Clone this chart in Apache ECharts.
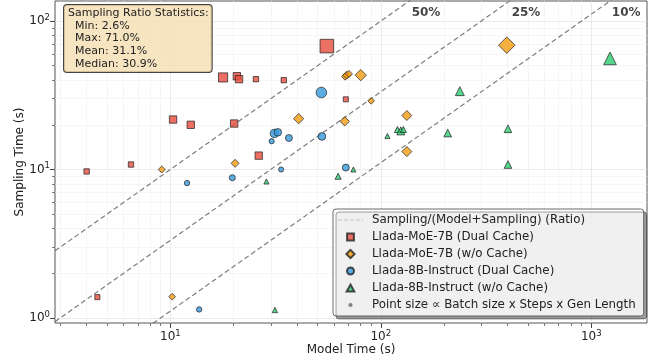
<!DOCTYPE html>
<html>
<head>
<meta charset="utf-8">
<script src="https://cdn.jsdelivr.net/npm/echarts@6/dist/echarts.min.js"></script>
<style>
  html, body { margin: 0; padding: 0; background: #fff; }
  #chart { width: 657px; height: 360px; }
</style>
</head>
<body>
<div id="chart"></div>
<script>
// rows: [model time (s), sampling time (s), relative workload]
const moeDualCache = [
  [4.0, 9.7, 1.8], [6.5, 10.8, 1.8], [10.3, 21.7, 3.4], [12.5, 20.0, 3.4],
  [20.1, 20.4, 3.4], [17.8, 41.7, 5.2], [20.7, 42.5, 3.4], [21.2, 40.6, 3.4],
  [25.5, 40.6, 1.8], [34.6, 40.0, 1.8], [26.3, 12.4, 3.4], [55.4, 67.8, 11.5],
  [68.2, 29.7, 1.6], [4.5, 1.38, 1.6]
];
const moeNoCache = [
  [9.1, 10.0, 3.0], [20.3, 11.0, 4.0], [40.7, 22.0, 6.5], [67.6, 42.2, 3.0],
  [68.9, 43.2, 4.0], [70.6, 44.0, 3.0], [80.3, 43.2, 8.0], [90.0, 29.0, 2.8],
  [67.4, 21.1, 5.4], [133, 23.1, 6.2], [133, 13.2, 6.2], [397, 68.8, 17.0],
  [10.2, 1.39, 2.8]
];
const instDualCache = [
  [52.2, 33.0, 7.0], [52.5, 16.7, 3.7], [31.2, 17.5, 4.2], [32.4, 17.8, 3.6],
  [30.3, 15.5, 1.7], [36.6, 16.3, 3.0], [33.6, 10.0, 1.6], [19.7, 8.8, 2.3],
  [12.0, 8.1, 1.8], [13.7, 1.14, 1.8], [68.2, 10.3, 3.0]
];
const instNoCache = [
  [62.7, 9.0, 2.3], [74.1, 10.0, 1.6], [107.5, 16.8, 1.6], [120, 18.6, 2.3],
  [124.5, 18.2, 4.0], [128, 18.6, 2.3], [208, 17.6, 3.7], [237.5, 33.7, 5.0],
  [402, 18.8, 3.7], [402, 10.8, 3.7], [1228, 56.0, 10.0], [28.6, 8.3, 1.6],
  [31.4, 1.13, 1.8]
];

const ratioLevels = [0.5, 0.25, 0.1];
const ratioTags = [[164, 113, '50%'], [490, 113, '25%'], [1466, 113, '10%']];

const statsLines = [
  'Sampling Ratio Statistics:',
  '  Min: 2.6%',
  '  Max: 71.0%',
  '  Mean: 31.1%',
  '  Median: 30.9%'
];

const xRange = [2.83, 1841];
const yRange = [0.924, 136.5];
const xMajor = [10, 100, 1000];
const yMajor = [1, 10, 100];
const minorSteps = [2, 3, 4, 5, 6, 7, 8, 9];

const FONT = 'DejaVu Sans';
const RATIO_NAME = 'Sampling/(Model+Sampling) (Ratio)';
const POINT_NAME = 'Point size \u221d Batch size x Steps x Gen Length';

// legend icons drawn in a 25x9 box so the marker keeps its own proportions
const ICONS = {
  rect: 'path://M0,0M25,9M9.1,1.1L15.9,1.1L15.9,7.9L9.1,7.9Z',
  diamond: 'path://M0,0M25,9M12.5,0.4L16.6,4.5L12.5,8.6L8.4,4.5Z',
  circle: 'path://M0,0M25,9M9,4.5a3.5,3.5 0 1,0 7,0a3.5,3.5 0 1,0 -7,0Z',
  triangle: 'path://M0,0M25,9M12.5,1L16.3,7.9L8.7,7.9Z',
  dot: 'path://M0,0M25,9M10.4,4.5a2.1,2.1 0 1,0 4.2,0a2.1,2.1 0 1,0 -4.2,0Z'
};

const minorValues = (decades) =>
  decades.flatMap(d => minorSteps.map(m => m * d));

const chart = echarts.init(document.getElementById('chart'));

function powLabel(v) {
  const e = Math.log10(v);
  const r = Math.round(e);
  if (Math.abs(e - r) > 1e-6) return '';
  return '{b|10}{s|' + r + '}';
}

const labelRich = {
  b: { fontFamily: FONT, fontSize: 12, color: '#222', lineHeight: 16 },
  s: { fontFamily: FONT, fontSize: 8.5, color: '#222', verticalAlign: 'top', lineHeight: 10 }
};

function scatterSeries(name, symbol, color, rows) {
  return {
    name: name,
    type: 'scatter',
    symbol: symbol,
    data: rows,
    symbolSize: (v) => 4 * Math.sqrt(v[2]),
    itemStyle: { color: color, opacity: 0.8, borderColor: '#222', borderWidth: 0.9 },
    emphasis: { disabled: true },
    z: 3
  };
}

function majorAxis(range, major, extra) {
  return Object.assign({
    type: 'log',
    logBase: 10,
    min: range[0],
    max: range[1],
    axisLine: { show: false },
    axisTick: { show: true, length: 5, customValues: major, lineStyle: { color: '#444', width: 1 } },
    axisLabel: { customValues: major, formatter: powLabel, rich: labelRich, margin: 5 },
    splitLine: { show: true, lineStyle: { color: '#e4e4e4', width: 0.8 } },
    nameMoveOverlap: false,
    nameTextStyle: { fontFamily: FONT, fontSize: 12, color: '#222' }
  }, extra);
}

function minorAxis(range, values, extra) {
  return Object.assign({
    type: 'log',
    logBase: 10,
    min: range[0],
    max: range[1],
    axisLine: { show: false },
    axisTick: { show: true, length: 3, customValues: values, lineStyle: { color: '#444', width: 0.7 } },
    axisLabel: { show: false },
    splitLine: { show: true, lineStyle: { color: '#f0f0f0', width: 0.7 } }
  }, extra);
}

const series = [];
ratioLevels.forEach(r => {
  const k = r / (1 - r);
  series.push({
    name: RATIO_NAME,
    type: 'line',
    symbol: 'none',
    silent: true,
    data: xRange.map(x => [x, x * k]),
    itemStyle: { color: '#666' },
    lineStyle: { color: '#666', width: 1.2, type: [5, 3], opacity: 0.85 },
    z: 1
  });
});
series.push(scatterSeries('Llada-MoE-7B (Dual Cache)', 'rect', '#E74C3C', moeDualCache));
series.push(scatterSeries('Llada-MoE-7B (w/o Cache)', 'diamond', '#F39C12', moeNoCache));
series.push(scatterSeries('Llada-8B-Instruct (Dual Cache)', 'circle', '#3498DB', instDualCache));
series.push(scatterSeries('Llada-8B-Instruct (w/o Cache)', 'triangle', '#2ECC71', instNoCache));
series.push({
  name: POINT_NAME, type: 'scatter', symbol: 'circle', data: [],
  itemStyle: { color: '#666' }
});
series.push({
  name: 'ratio-tags',
  type: 'scatter',
  symbolSize: 0,
  silent: true,
  data: ratioTags,
  label: {
    show: true, position: 'inside', formatter: (p) => p.value[2],
    fontFamily: FONT, fontSize: 12, fontWeight: 'bold', color: '#111'
  },
  z: 4
});

chart.setOption({
  animation: false,
  backgroundColor: '#fff',
  grid: {
    left: 55, right: 10, top: 1, bottom: 37,
    outerBoundsMode: 'none', containLabel: false,
    show: true, borderColor: '#555', borderWidth: 1, backgroundColor: 'transparent'
  },
  xAxis: [
    majorAxis(xRange, xMajor, {
      name: 'Model Time (s)', nameLocation: 'middle', nameGap: 21,
      axisLabel: { customValues: xMajor, formatter: powLabel, rich: labelRich, margin: 6 }
    }),
    minorAxis(xRange, minorValues([1, 10, 100, 1000]), { position: 'bottom' })
  ],
  yAxis: [
    majorAxis(yRange, yMajor, { name: 'Sampling Time (s)', nameLocation: 'middle', nameGap: 29 }),
    minorAxis(yRange, minorValues([1, 10]), { position: 'left' })
  ],
  legend: {
    orient: 'vertical',
    left: 333,
    top: 209,
    padding: [5, 8, 5, 4],
    backgroundColor: 'rgba(255,255,255,0.85)',
    borderColor: '#444',
    borderWidth: 0.8,
    borderRadius: 3,
    shadowColor: 'rgba(0,0,0,0.45)',
    shadowOffsetX: 3,
    shadowOffsetY: 3,
    shadowBlur: 0,
    itemWidth: 25,
    itemHeight: 9,
    itemGap: 5,
    selectedMode: false,
    textStyle: { fontFamily: FONT, fontSize: 11.85, color: '#222', padding: [0, 0, 0, 4] },
    data: [
      {
        name: RATIO_NAME,
        itemStyle: { opacity: 0 },
        lineStyle: { color: '#bbb', type: [4, 2], width: 1.2 }
      },
      { name: 'Llada-MoE-7B (Dual Cache)', icon: ICONS.rect },
      { name: 'Llada-MoE-7B (w/o Cache)', icon: ICONS.diamond },
      { name: 'Llada-8B-Instruct (Dual Cache)', icon: ICONS.circle },
      { name: 'Llada-8B-Instruct (w/o Cache)', icon: ICONS.triangle },
      { name: POINT_NAME, icon: ICONS.dot }
    ]
  },
  graphic: [{
    type: 'text',
    left: 63,
    top: 4,
    z: 10,
    style: {
      text: statsLines.join('\n'),
      font: '11px "DejaVu Sans"',
      fill: '#222',
      lineHeight: 12.6,
      backgroundColor: 'rgba(245,222,179,0.8)',
      borderColor: '#444',
      borderWidth: 1,
      borderRadius: 3,
      padding: [2, 3, 2, 4]
    }
  }],
  series: series
});
</script>
</body>
</html>
